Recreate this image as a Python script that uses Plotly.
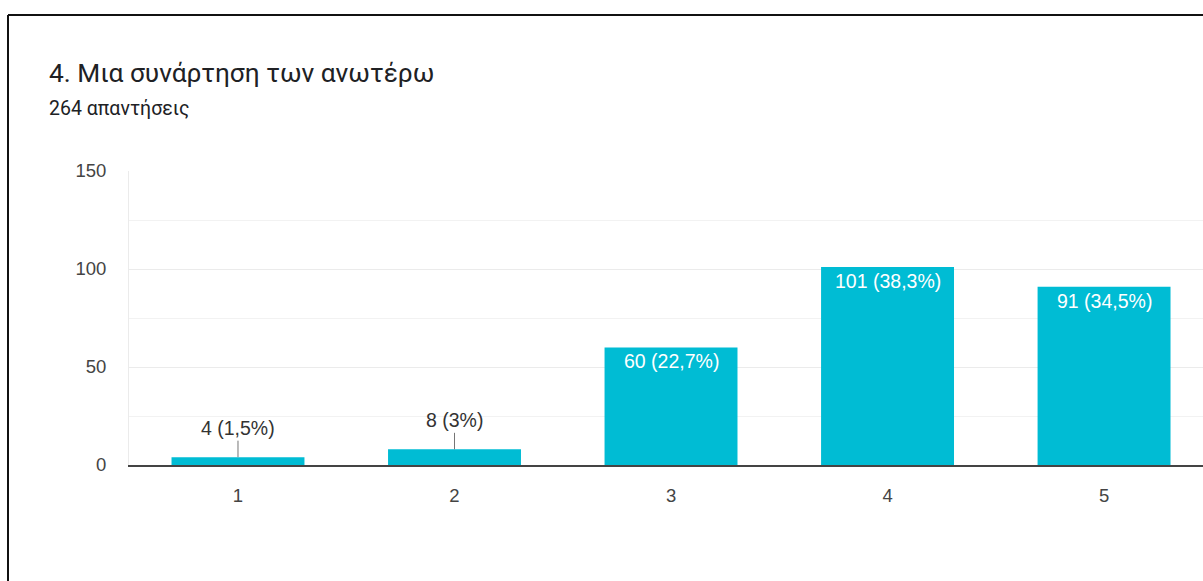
import plotly.graph_objects as go

# Survey results: rating scale 1-5
categories = [1, 2, 3, 4, 5]
counts = [4, 8, 60, 101, 91]
percent_labels = ["1,5%", "3%", "22,7%", "38,3%", "34,5%"]
total_responses = 264

title_text = "4. Μια συνάρτηση των ανωτέρω"
subtitle_text = f"{total_responses} απαντήσεις"

BAR_COLOR = "#00bcd4"
FONT = "Liberation Sans, Arial, sans-serif"

W, H = 1203, 581
ML, MR, MT, MB = 129, 0, 171, 116
PW, PH = W - ML - MR, H - MT - MB


def px_x(x):
    return (x - ML) / PW


def px_y(y):
    return (H - MB - y) / PH


fig = go.Figure(
    go.Bar(
        x=categories,
        y=counts,
        width=0.614,
        marker=dict(color=BAR_COLOR, line=dict(width=0)),
        hoverinfo="skip",
    )
)

annotations = []
for c, v, p in zip(categories, counts, percent_labels):
    label = f"{v} ({p})"
    if v < 20:
        # small bars: label above with a thin leader line
        annotations.append(dict(
            x=c, y=v, xref="x", yref="y", text=label,
            showarrow=True, arrowhead=0, arrowwidth=1, arrowcolor="#757575",
            ax=0, ay=-29, font=dict(family=FONT, size=19.5, color="#333333"),
        ))
    else:
        annotations.append(dict(
            x=c, y=v, xref="x", yref="y", text=label, showarrow=False,
            yanchor="top", yshift=-1,
            font=dict(family=FONT, size=19.5, color="#ffffff"),
        ))

annotations.append(dict(
    x=px_x(47), y=px_y(73), xref="paper", yref="paper", text=title_text,
    showarrow=False, xanchor="left", yanchor="middle",
    font=dict(family="Roboto, sans-serif", size=26.3, color="#202124"),
))
annotations.append(dict(
    x=px_x(47), y=px_y(108), xref="paper", yref="paper", text=subtitle_text,
    showarrow=False, xanchor="left", yanchor="middle",
    font=dict(family="Roboto, sans-serif", size=19.5, color="#202124"),
))

# card frame (top and left edges)
shapes = [
    dict(type="line", xref="paper", yref="paper",
         x0=px_x(8), x1=px_x(1210), y0=px_y(15), y1=px_y(15),
         line=dict(color="#111111", width=2)),
    dict(type="line", xref="paper", yref="paper",
         x0=px_x(8), x1=px_x(8), y0=px_y(15), y1=px_y(590),
         line=dict(color="#111111", width=2)),
]

fig.update_layout(
    width=W, height=H,
    margin=dict(l=ML, r=MR, t=MT, b=MB, pad=0),
    paper_bgcolor="#ffffff", plot_bgcolor="#ffffff",
    showlegend=False,
    annotations=annotations,
    shapes=shapes,
    font=dict(family=FONT, color="#444444"),
    xaxis=dict(
        range=[0.4966, 5.457], tickvals=categories,
        ticktext=[str(c) for c in categories],
        showgrid=False, zeroline=False,
        showline=True, linecolor="#444444", linewidth=1.5,
        ticks="", tickfont=dict(family=FONT, size=18.5, color="#444444"),
        ticklabelstandoff=13,
    ),
    yaxis=dict(
        range=[0, 150], dtick=50, tick0=0,
        showgrid=True, gridcolor="#ebebeb", gridwidth=1,
        minor=dict(dtick=25, showgrid=True, gridcolor="#f2f2f2", gridwidth=1),
        zeroline=False, showline=True, linecolor="#ebebeb", linewidth=1,
        ticks="", tickfont=dict(family=FONT, size=18.5, color="#444444"),
        ticklabelstandoff=18,
    ),
)

fig.write_html("out.html")
